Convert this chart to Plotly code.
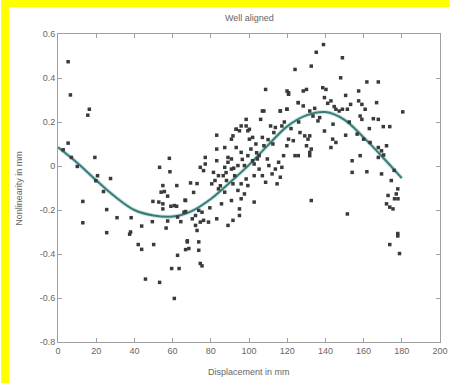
import plotly.graph_objects as go

# Scatter data: displacement (mm) and nonlinearity (mm)
disp_x = [5.3, 6.5, 16.4, 15.6, 5.3, 2.7, 7.0, 10.1, 19.3, 20.7, 19.8, 27.5, 23.8, 13.0, 13.0, 25.5,
          30.9, 25.5, 38.3, 37.5, 38.0, 43.8, 49.4, 42.0, 43.8, 50.1, 45.8, 53.2, 60.9, 59.5, 63.4,
          62.6, 66.8, 67.7, 56.6, 57.4, 64.3, 66.8, 62.1, 59.1, 54.9, 49.7, 52.8, 54.9, 58.3, 53.2,
          58.6, 62.2, 54.9, 55.7, 54.0, 57.4, 66.5, 60.9, 62.6,
          66.8, 69.4, 72.8, 66.0, 70.3, 72.0, 72.8, 74.5, 75.4, 76.2, 72.0, 73.7, 67.7, 68.5, 73.7,
          73.7, 74.5, 75.4, 78.8, 83.1, 89.0, 91.6, 85.6, 95.0, 97.6, 102.7, 74.5, 77.1, 76.2, 81.4,
          82.2, 80.5, 84.0, 83.1, 87.3, 86.5, 89.0, 90.8, 88.2, 92.5, 91.6, 94.2, 95.9, 98.5, 77.1,
          83.1, 87.3, 83.1, 89.0, 91.6, 93.3, 93.3, 95.9, 98.5, 99.4, 100.2, 101.9, 103.6, 101.0,
          106.1, 107.8, 107.0, 105.3, 107.8, 102.7, 105.3, 107.0, 109.6, 110.4, 108.7, 112.1, 113.8,
          115.5, 116.4, 114.7, 111.3, 113.0, 113.8, 117.2, 116.4, 119.8, 120.7, 108.7, 124.1, 130.1,
          125.8, 128.4, 131.8, 133.5, 120.7, 119.8, 123.2, 124.1, 125.8, 126.7, 129.2, 130.9, 130.1,
          131.8, 132.6, 118.1, 117.2, 90.8, 95.9, 99.4, 97.6, 94.2, 101.9, 104.4, 102.7, 99.4, 95.9,
          95.0, 90.8, 87.3, 84.0, 119.9, 120.7, 128.4, 107.0, 116.4, 119.9, 125.8, 90.8, 93.3, 95.0,
          98.5, 100.2, 85.0, 88.0, 92.0, 96.5, 104.0, 110.0, 112.5, 118.5, 122.0, 126.0, 71.0, 79.5,
          139.0, 135.2, 132.6, 148.9, 148.0, 161.7, 167.7, 138.6, 140.3, 157.4, 150.6, 139.5, 142.9,
          141.2, 157.4, 159.1, 166.8, 153.2, 151.5, 148.9, 145.5, 144.6, 147.2, 160.8, 180.5, 158.2,
          159.1, 165.1, 167.7, 170.3, 173.7, 134.4, 136.1, 139.5, 143.8, 145.5, 142.9, 131.8, 132.6,
          131.8, 150.6, 156.6, 160.0, 163.4, 167.7, 172.0, 169.4, 158.2, 154.0, 154.0, 161.7, 169.4,
          167.7, 174.5, 177.9, 177.1, 172.8, 176.2, 172.0, 173.7, 175.4, 178.0, 151.5, 177.9, 177.9,
          173.7, 178.8, 137.0, 144.0, 152.5, 163.0, 170.5, 176.0]
nonlin_y = [0.474, 0.323, 0.258, 0.231, 0.104, 0.074, 0.039, -0.002, 0.039, -0.044, -0.067, -0.057,
            -0.116, -0.161, -0.258, -0.198, -0.235, -0.303, -0.235, -0.31, -0.30, -0.273, -0.253,
            -0.357, -0.379, -0.357, -0.514, -0.529, -0.602, -0.466, -0.466, -0.406, -0.38, -0.34,
            -0.282, -0.25, -0.253, -0.207, -0.183, -0.183, -0.195, -0.161, -0.164, -0.172, 0.035,
            -0.006, -0.026, -0.089, -0.089, -0.116, -0.119, -0.137, -0.155, -0.18, -0.232,
            -0.157, -0.077, -0.08, -0.21, -0.24, -0.27, -0.293, -0.255, -0.21, -0.247, -0.225, -0.202,
            -0.345, -0.375, -0.345, -0.383, -0.443, -0.454, -0.255, -0.24, -0.27, -0.247, -0.172,
            -0.195, -0.127, -0.164, -0.006, 0.009, -0.021, -0.029, -0.066, -0.081, -0.044, 0.024,
            -0.006, -0.044, 0.017, -0.014, -0.066, -0.044, -0.081, -0.111, -0.081, -0.059, 0.039,
            0.077, 0.084, 0.14, 0.039, 0.137, 0.084, 0.167, 0.182, 0.212, 0.16, 0.122, 0.13, 0.1,
            0.077, 0.212, 0.25, 0.13, 0.047, 0.092, 0.009, -0.014, -0.044, 0.032, 0.002, -0.074,
            -0.036, -0.014, 0.017, -0.051, -0.081, 0.182, 0.152, 0.175, 0.182, 0.25, 0.258, 0.333,
            0.348, 0.439, 0.348, 0.288, 0.273, 0.25, 0.227, 0.122, 0.092, 0.115, 0.047, 0.047, 0.152,
            0.137, 0.122, 0.092, 0.047, -0.157, 0.047, -0.006, 0.032, 0.062, 0.047, 0.002, 0.002,
            0.024, 0.032, -0.044, -0.089, -0.149, -0.225, -0.157, -0.119, -0.104, 0.341, 0.326, 0.341,
            0.25, 0.25, 0.258, 0.288, 0.122, 0.167, 0.16, 0.182, 0.167, -0.09, -0.03, -0.01, 0.03,
            0.06, 0.12, 0.1, 0.2, 0.17, 0.2, -0.12, -0.19,
            0.552, 0.517, 0.454, 0.492, 0.401, 0.382, 0.382, 0.356, 0.348, 0.341, 0.321, 0.311, 0.296,
            0.285, 0.296, 0.28, 0.288, 0.28, 0.258, 0.258, 0.258, 0.27, 0.25, 0.258, 0.246, 0.227,
            0.212, 0.215, 0.212, 0.179, 0.179, 0.262, 0.205, 0.159, 0.122, 0.107, 0.084, 0.137, 0.077,
            0.062, 0.14, 0.145, 0.122, 0.107, 0.084, 0.092, 0.069, 0.047, 0.024, -0.029, -0.026,
            -0.036, 0.039, -0.066, -0.104, -0.127, -0.134, -0.149, -0.172, -0.187, -0.195, -0.149,
            -0.218, -0.307, -0.318, -0.357, -0.398, 0.22, 0.19, 0.2, 0.17, 0.05, -0.02]

# Fitted curve
fit_x = [0, 10, 20, 30, 40, 50, 60, 70, 80, 90, 100, 110, 120, 130, 140, 150, 160, 170, 180]
fit_y = [0.085, 0.015, -0.065, -0.14, -0.20, -0.225, -0.23, -0.205, -0.15, -0.075, 0.005,
         0.095, 0.18, 0.23, 0.245, 0.21, 0.13, 0.04, -0.055]

x_ticks = [0, 20, 40, 60, 80, 100, 120, 140, 160, 180, 200]
y_ticks = [0.6, 0.4, 0.2, 0, -0.2, -0.4, -0.6, -0.8]
y_tick_text = ["0.6", "0.4", "0.2", "0", "-0.2", "-0.4", "-0.6", "-0.8"]

title_text = "Well aligned"
x_title = "Displacement in mm"
y_title = "Nonlinearity in mm"

W, H = 458, 383
L, R, T, B = 58, 10, 34, 41
pw, ph = W - L - R, H - T - B

fig = go.Figure()
fig.add_trace(go.Scatter(x=fit_x, y=fit_y, mode="lines", line=dict(color="#c6e4e4", width=4, shape="spline"),
                         hoverinfo="skip", showlegend=False))
fig.add_trace(go.Scatter(x=fit_x, y=fit_y, mode="lines", line=dict(color="#3b7b78", width=2, shape="spline"),
                         showlegend=False))
fig.add_trace(go.Scatter(x=disp_x, y=nonlin_y, mode="markers",
                         marker=dict(symbol="square", size=3.5, color="#3a3a3a", line=dict(width=0)),
                         showlegend=False))

axis_common = dict(showline=True, linecolor="#a0a0a0", linewidth=1, mirror="ticks", ticks="inside",
                   ticklen=4, tickcolor="#a0a0a0", showgrid=False, zeroline=False,
                   tickfont=dict(family="Liberation Sans", size=9, color="#666666"))

# yellow bands on the top and left edge (paper coordinates)
px0 = -L / pw
px8 = (8 - L) / pw
px_end = (W - L) / pw
py_top = (H - B) / ph
py7 = (H - B - 7) / ph
py_bot = -B / ph

fig.update_layout(
    width=W, height=H,
    margin=dict(l=L, r=R, t=T, b=B),
    paper_bgcolor="#ffffff",
    plot_bgcolor="#ffffff",
    xaxis=dict(range=[0, 200], tickvals=x_ticks, **axis_common),
    yaxis=dict(range=[-0.8, 0.6], tickvals=y_ticks, ticktext=y_tick_text, **axis_common),
    shapes=[
        dict(type="rect", xref="paper", yref="paper", layer="below",
             x0=px0, x1=px8, y0=py_bot, y1=py_top, fillcolor="#ffff00", line=dict(width=0)),
        dict(type="rect", xref="paper", yref="paper", layer="below",
             x0=px0, x1=px_end, y0=py7, y1=py_top, fillcolor="#ffff00", line=dict(width=0)),
    ],
    annotations=[
        dict(text=title_text, xref="paper", yref="paper", x=0.5, y=(H - B - 18) / ph,
             showarrow=False, font=dict(family="Liberation Sans", size=9, color="#666666"),
             xanchor="center", yanchor="middle"),
        dict(text=x_title, xref="paper", yref="paper", x=0.5, y=(H - B - 372) / ph,
             showarrow=False, font=dict(family="Liberation Sans", size=9, color="#666666"),
             xanchor="center", yanchor="middle"),
        dict(text=y_title, xref="paper", yref="paper", x=(18 - L) / pw, y=0.5, textangle=-90,
             showarrow=False, font=dict(family="Liberation Sans", size=9, color="#666666"),
             xanchor="center", yanchor="middle"),
    ],
)

fig.write_html("out.html", config={"displayModeBar": False},
               post_script="document.body.style.margin='0';document.body.style.overflow='hidden';")
